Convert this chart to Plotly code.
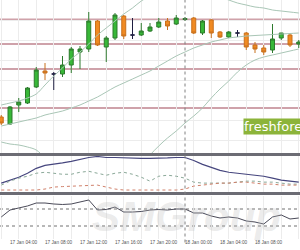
import plotly.graph_objects as go

# ---- data (H1 candles, 17 Jan 03:00 -> 18 Jan 13:00) ----
times = ["2017-01-17 03:00", "2017-01-17 04:00", "2017-01-17 05:00", "2017-01-17 06:00",
         "2017-01-17 07:00", "2017-01-17 08:00", "2017-01-17 09:00", "2017-01-17 10:00",
         "2017-01-17 11:00", "2017-01-17 12:00", "2017-01-17 13:00", "2017-01-17 14:00",
         "2017-01-17 15:00", "2017-01-17 16:00", "2017-01-17 17:00", "2017-01-17 18:00",
         "2017-01-17 19:00", "2017-01-17 20:00", "2017-01-17 21:00", "2017-01-17 22:00",
         "2017-01-17 23:00", "2017-01-18 00:00", "2017-01-18 01:00", "2017-01-18 02:00",
         "2017-01-18 03:00", "2017-01-18 04:00", "2017-01-18 05:00", "2017-01-18 06:00",
         "2017-01-18 07:00", "2017-01-18 08:00", "2017-01-18 09:00", "2017-01-18 10:00",
         "2017-01-18 11:00", "2017-01-18 12:00", "2017-01-18 13:00"]

opens = [1.0583, 1.0576, 1.0595, 1.0597, 1.0613, 1.0629, 1.0626, 1.0626, 1.0635, 1.0648,
         1.0651, 1.0679, 1.0653, 1.0662, 1.0684, 1.0665, 1.0665, 1.0669, 1.0673, 1.0679,
         1.0676, 1.06805, 1.0682, 1.0667, 1.0680, 1.0668, 1.0663, 1.0667, 1.0667, 1.0655,
         1.0652, 1.0650, 1.0662, 1.0665, 1.0656]
highs = [1.0585, 1.0594, 1.0602, 1.0613, 1.0633, 1.0637, 1.0628, 1.0644, 1.0653, 1.0654,
         1.0688, 1.0680, 1.0664, 1.0687, 1.0685, 1.0682, 1.0677, 1.0677, 1.0682, 1.0682,
         1.0685, 1.0683, 1.0683, 1.0680, 1.0681, 1.0669, 1.0669, 1.0670, 1.0668, 1.0658,
         1.0655, 1.0676, 1.0667, 1.0667, 1.0660]
lows = [1.0575, 1.0575, 1.0588, 1.0596, 1.0612, 1.0620, 1.0610, 1.0623, 1.0627, 1.0631,
        1.0648, 1.0654, 1.0638, 1.0660, 1.0661, 1.0661, 1.0664, 1.0668, 1.0672, 1.0670,
        1.0675, 1.0679, 1.0666, 1.0665, 1.0662, 1.0662, 1.0662, 1.0663, 1.0650, 1.0647,
        1.0645, 1.0647, 1.0660, 1.0653, 1.0652]
closes = [1.0577, 1.0593, 1.0598, 1.0612, 1.0630, 1.0627, 1.0626, 1.0635, 1.0651, 1.0651,
          1.0679, 1.0655, 1.0662, 1.0685, 1.0664, 1.0665, 1.0669, 1.0673, 1.0678, 1.0674,
          1.0682, 1.06815, 1.0667, 1.0679, 1.0667, 1.0663, 1.0668, 1.0667, 1.0653, 1.0651,
          1.0648, 1.0661, 1.0667, 1.0655, 1.0658]

bb_upper = [1.0595, 1.0597, 1.0599, 1.0602, 1.0606, 1.0615, 1.0624, 1.0632, 1.0641, 1.0648,
            1.0656, 1.0665, 1.0672, 1.0679, 1.0686, 1.0692, 1.0699, 1.0704, 1.0708, 1.0711,
            1.0713, 1.0713, 1.0712, 1.0709, 1.0706, 1.0703, 1.0700, 1.0697, 1.0695, 1.0693,
            1.0692, 1.0690, 1.0689, 1.0688, 1.0687]
bb_middle = [1.0574, 1.0576, 1.0578, 1.0580, 1.0582, 1.0585, 1.0587, 1.0589, 1.0592, 1.0595,
             1.0599, 1.0603, 1.0608, 1.0613, 1.0617, 1.0621, 1.0625, 1.0629, 1.0634, 1.0639,
             1.0644, 1.0648, 1.0652, 1.0655, 1.0658, 1.0660, 1.0662, 1.0663, 1.0664, 1.06645,
             1.0665, 1.06655, 1.0666, 1.06665, 1.0667]
bb_lower = [1.0558, 1.0556, 1.0555, 1.0553, 1.0550, 1.0542, 1.0534, 1.0528, 1.0524, 1.0522,
            1.0520, 1.0519, 1.0519, 1.0520, 1.0522, 1.0526, 1.0535, 1.0545, 1.0554, 1.0562,
            1.0569, 1.0577, 1.0584, 1.0592, 1.0602, 1.0611, 1.0619, 1.0628, 1.0635, 1.0640,
            1.0643, 1.0645, 1.0647, 1.0649, 1.0651]

levels = [1.06805, 1.0656, 1.0631, 1.0592]

adx = [9, 12, 15, 19, 24, 27, 28, 29.5, 31, 33, 35, 36, 35, 35, 34.5, 34, 34, 34, 34, 34.5,
       35, 35, 32, 28, 25, 22, 20, 19, 18, 17, 16, 14, 12, 11, 10]
plus_di = [7, 11, 14, 16, 19, 20, 19, 18, 18, 20, 21, 19, 17, 19, 20, 18, 15, 11, 16, 17,
           16, 14, 10, 9, 9, 9, 9, 10, 11, 11, 10, 10, 9, 8, 8]
minus_di = [2, 2, 2, 2, 2, 3, 5, 5.5, 6, 6, 6.5, 7, 5, 3, 2, 2, 2, 2, 2, 2,
            2, 3, 6, 7, 8, 9, 9, 10, 10, 9, 8, 8, 7, 7, 7]

rsi = [51.2, 67.6, 72.4, 77.1, 84.1, 84.1, 81.8, 80.6, 81.8, 86.5, 91.2, 67.6, 68.8, 74.7,
       62.9, 62.9, 64.1, 67.6, 68.8, 67.6, 70.0, 70.0, 60.6, 60.6, 53.5, 48.8, 51.2, 48.8,
       41.8, 39.4, 34.7, 51.2, 55.9, 46.5, 48.8]
rsi_levels = [70, 30]

day_separator = "2017-01-18 00:00"
x_range = ["2017-01-17 02:51:26", "2017-01-18 13:08:34"]

# ---- figure ----
fig = go.Figure()

doji = [i for i in range(len(times)) if opens[i] == closes[i]]
body = [i for i in range(len(times)) if opens[i] != closes[i]]

def pick(arr, idx):
    return [arr[i] for i in idx]

fig.add_trace(go.Candlestick(
    x=pick(times, body), open=pick(opens, body), high=pick(highs, body),
    low=pick(lows, body), close=pick(closes, body),
    increasing=dict(fillcolor="#38b838", line=dict(color="#2d7a2d", width=1)),
    decreasing=dict(fillcolor="#f08a22", line=dict(color="#c8701c", width=1)),
    whiskerwidth=0, showlegend=False, hoverinfo="skip", xaxis="x", yaxis="y"))
fig.add_trace(go.Candlestick(
    x=pick(times, doji), open=pick(opens, doji), high=pick(highs, doji),
    low=pick(lows, doji), close=pick(closes, doji),
    increasing=dict(fillcolor="#1e1e40", line=dict(color="#1e1e40", width=1)),
    decreasing=dict(fillcolor="#1e1e40", line=dict(color="#1e1e40", width=1)),
    whiskerwidth=0, showlegend=False, hoverinfo="skip", xaxis="x", yaxis="y"))

band_color = "#a9c6b6"
for series in (bb_upper, bb_middle, bb_lower):
    fig.add_trace(go.Scatter(x=times, y=series, mode="lines", line=dict(color=band_color, width=1, shape="spline"),
                             showlegend=False, hoverinfo="skip", xaxis="x", yaxis="y"))

fig.add_trace(go.Scatter(x=times, y=adx, mode="lines", line=dict(color="#46467e", width=1.2),
                         showlegend=False, hoverinfo="skip", xaxis="x", yaxis="y2"))
fig.add_trace(go.Scatter(x=times, y=plus_di, mode="lines", line=dict(color="#8aa898", width=1, dash="dot"),
                         showlegend=False, hoverinfo="skip", xaxis="x", yaxis="y2"))
fig.add_trace(go.Scatter(x=times, y=minus_di, mode="lines", line=dict(color="#d0806a", width=1, dash="dot"),
                         showlegend=False, hoverinfo="skip", xaxis="x", yaxis="y2"))

fig.add_trace(go.Scatter(x=times, y=rsi, mode="lines", line=dict(color="#4a4a58", width=1),
                         showlegend=False, hoverinfo="skip", xaxis="x", yaxis="y3"))

shapes = []
for lv in levels:
    shapes.append(dict(type="line", xref="paper", x0=0, x1=1, yref="y", y0=lv, y1=lv,
                       line=dict(color="#cfa2aa", width=2), layer="below"))
for lv in rsi_levels:
    shapes.append(dict(type="line", xref="paper", x0=0, x1=1, yref="y3", y0=lv, y1=lv,
                       line=dict(color="#707070", width=1, dash="dot"), layer="below"))
# panel separators
shapes.append(dict(type="rect", xref="paper", x0=0, x1=1, yref="paper", y0=1 - 156 / 250, y1=1 - 153 / 250,
                   fillcolor="#6c6c74", line=dict(width=0)))
shapes.append(dict(type="rect", xref="paper", x0=0, x1=1, yref="paper", y0=1 - 195 / 250, y1=1 - 192 / 250,
                   fillcolor="#6c6c74", line=dict(width=0)))
# day separator
shapes.append(dict(type="line", xref="x", x0=day_separator, x1=day_separator, yref="paper", y0=0.03, y1=1,
                   line=dict(color="#808080", width=1, dash="dot")))

annotations = [
    dict(text="SMGroup", xref="paper", yref="paper", x=0.62, y=1 - 216 / 250, xanchor="center", yanchor="middle",
         showarrow=False, font=dict(size=42, color="rgba(190,190,190,0.3)", family="Liberation Sans",
                                     weight="bold", style="italic")),
    dict(text="freshforex", xref="paper", yref="paper", x=243 / 300, y=1 - 117.5 / 250, xanchor="left", yanchor="top",
         showarrow=False, bgcolor="#8cb43a", borderpad=0,
         font=dict(size=13, color="white", family="DejaVu Sans")),
]

fig.update_layout(
    width=300, height=250, margin=dict(l=0, r=0, t=0, b=0),
    paper_bgcolor="white", plot_bgcolor="white", showlegend=False, boxgap=0.35,
    shapes=shapes, annotations=annotations,
    xaxis=dict(type="date", range=x_range, anchor="y3", domain=[0, 1],
               tickmode="linear", tick0="2017-01-17 00:00", dtick=4 * 3600 * 1000,
               tickformat="%d %b %H:%M", ticklabelposition="outside right", ticks="", tickangle=0,
               tickfont=dict(size=4.7, color="#555555", family="Liberation Sans"),
               showgrid=False, zeroline=False, showline=False,
               minor=dict(tick0="2017-01-17 01:00", dtick=2 * 3600 * 1000, showgrid=True,
                          gridcolor="#ececec", gridwidth=1),
               rangeslider=dict(visible=False)),
    yaxis=dict(domain=[1 - 153 / 250, 1], range=[1.0547, 1.0700], showticklabels=False,
               showgrid=True, gridcolor="#ececec", dtick=0.002, zeroline=False),
    yaxis2=dict(domain=[1 - 192 / 250, 1 - 156 / 250], range=[0, 36.5], showticklabels=False,
                showgrid=False, zeroline=False),
    yaxis3=dict(domain=[1 - 238.75 / 250, 1 - 196.25 / 250], range=[0, 100], showticklabels=False,
                showgrid=False, zeroline=False),
)

fig.write_html("out.html")
